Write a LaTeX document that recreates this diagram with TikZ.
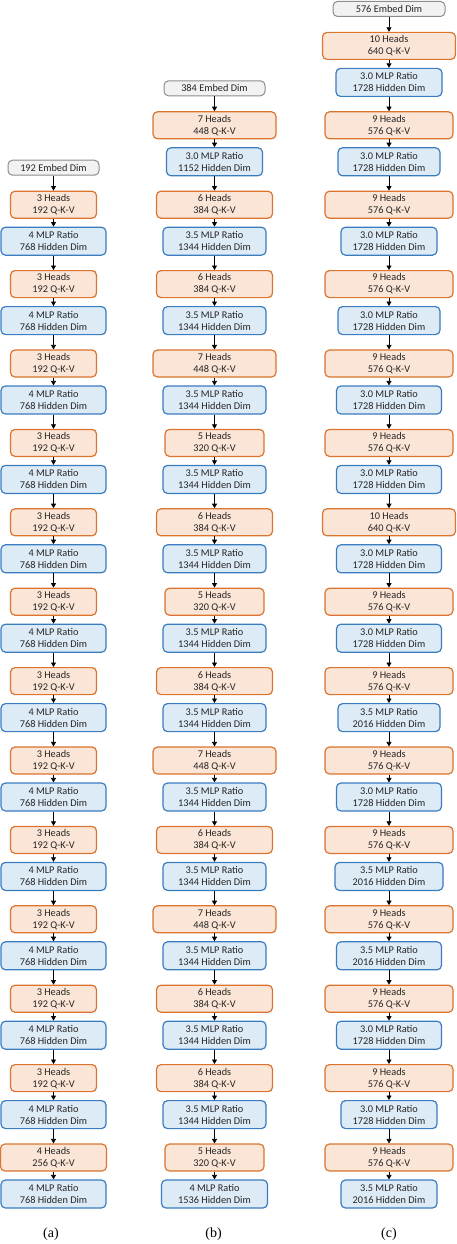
\documentclass[tikz,border=0pt]{standalone}
\usepackage{fontspec}
\setmainfont{Carlito}
\newfontfamily\capfont{Liberation Serif}
\usetikzlibrary{arrows.meta}
\definecolor{orB}{RGB}{218,116,46}
\definecolor{orF}{RGB}{251,229,214}
\definecolor{blB}{RGB}{58,124,192}
\definecolor{blF}{RGB}{221,235,247}
\definecolor{grB}{RGB}{140,140,140}
\definecolor{grF}{RGB}{242,242,242}
\definecolor{txt}{RGB}{38,38,38}
\tikzset{
  basebox/.style={rectangle, rounded corners=4.5pt, line width=1.2pt, inner sep=0pt, align=center,
    text=txt, font=\fontsize{10.3}{12}\selectfont},
  headbox/.style={basebox, draw=orB, fill=orF, minimum height=27pt},
  mlpbox/.style={basebox, draw=blB, fill=blF, minimum height=28pt},
  embbox/.style={basebox, draw=grB, fill=grF, minimum height=15pt, line width=1pt},
  arr/.style={draw=black, line width=0.8pt, -{Triangle[length=4.5pt,width=5pt]}},
  caplabel/.style={font=\capfont\fontsize{14}{16}\selectfont, inner sep=0pt}
}
\begin{document}
\begin{tikzpicture}[x=1pt,y=-1pt]
\useasboundingbox (0,0) rectangle (457,1244);
% ---------------- column (a) ----------------
\node[embbox, minimum width=91pt] (a-e) at (53.5,167.7) {192 Embed Dim};
\foreach \r/\h/\q/\hw in {2/3/192/86,3/3/192/86,4/3/192/86,5/3/192/86,6/3/192/86,7/3/192/86,8/3/192/86,9/3/192/86,10/3/192/86,11/3/192/86,12/3/192/86,13/3/192/86,14/4/256/106}{
  \node[headbox, minimum width=\hw pt] (a-h\r) at (53.5,{45.9+79.4*\r}) {\h{} Heads\\\q{} Q-K-V};
  \node[mlpbox, minimum width=105pt] (a-m\r) at (53.5,{82.4+79.4*\r}) {4 MLP Ratio\\768 Hidden Dim};
  \draw[arr] (a-h\r) -- (a-m\r);
}
\draw[arr] (a-e) -- (a-h2);
\foreach \r [evaluate=\r as \n using int(\r+1)] in {2,...,13}{
  \draw[arr] (a-m\r) -- (a-h\n);
}
% ---------------- column (b) ----------------
\node[embbox, minimum width=101pt] (b-e) at (214.5,88.3) {384 Embed Dim};
\foreach \r/\h/\q/\hw/\m/\d/\mw in {1/7/448/123/3.0/1152/96,2/6/384/116/3.5/1344/103,3/6/384/116/3.5/1344/103,4/7/448/123/3.5/1344/103,5/5/320/99/3.5/1344/103,6/6/384/116/3.5/1344/103,7/5/320/99/3.5/1344/103,8/6/384/116/3.5/1344/103,9/7/448/123/3.5/1344/103,10/6/384/116/3.5/1344/103,11/7/448/123/3.5/1344/103,12/6/384/116/3.5/1344/103,13/6/384/116/3.5/1344/103,14/5/320/99/4/1536/106}{
  \node[headbox, minimum width=\hw pt] (b-h\r) at (214.5,{45.9+79.4*\r}) {\h{} Heads\\\q{} Q-K-V};
  \node[mlpbox, minimum width=\mw pt] (b-m\r) at (214.5,{82.4+79.4*\r}) {\m{} MLP Ratio\\\d{} Hidden Dim};
  \draw[arr] (b-h\r) -- (b-m\r);
}
\draw[arr] (b-e) -- (b-h1);
\foreach \r [evaluate=\r as \n using int(\r+1)] in {1,...,13}{
  \draw[arr] (b-m\r) -- (b-h\n);
}
% ---------------- column (c) ----------------
\node[embbox, minimum width=112pt] (c-e) at (389,9) {576 Embed Dim};
\foreach \r/\h/\q/\hw/\m/\d/\mw in {0/10/640/133/3.0/1728/106,1/9/576/128/3.0/1728/102,2/9/576/128/3.0/1728/96,3/9/576/128/3.0/1728/102,4/9/576/128/3.0/1728/105,5/9/576/128/3.0/1728/105,6/10/640/133/3.0/1728/105,7/9/576/128/3.0/1728/105,8/9/576/128/3.5/2016/102,9/9/576/128/3.0/1728/105,10/9/576/128/3.5/2016/108,11/9/576/128/3.5/2016/105,12/9/576/128/3.0/1728/105,13/9/576/128/3.0/1728/96,14/9/576/128/3.5/2016/96}{
  \node[headbox, minimum width=\hw pt] (c-h\r) at (389,{45.9+79.4*\r}) {\h{} Heads\\\q{} Q-K-V};
  \node[mlpbox, minimum width=\mw pt] (c-m\r) at (389,{82.4+79.4*\r}) {\m{} MLP Ratio\\\d{} Hidden Dim};
  \draw[arr] (c-h\r) -- (c-m\r);
}
\draw[arr] (c-e) -- (c-h0);
\foreach \r [evaluate=\r as \n using int(\r+1)] in {0,...,13}{
  \draw[arr] (c-m\r) -- (c-h\n);
}
% ---------------- captions ----------------
\node[caplabel] (capa) at (51,1234) {(a)};
\node[caplabel] (capb) at (213.5,1234) {(b)};
\node[caplabel] (capc) at (389,1234) {(c)};
\end{tikzpicture}
\end{document}
